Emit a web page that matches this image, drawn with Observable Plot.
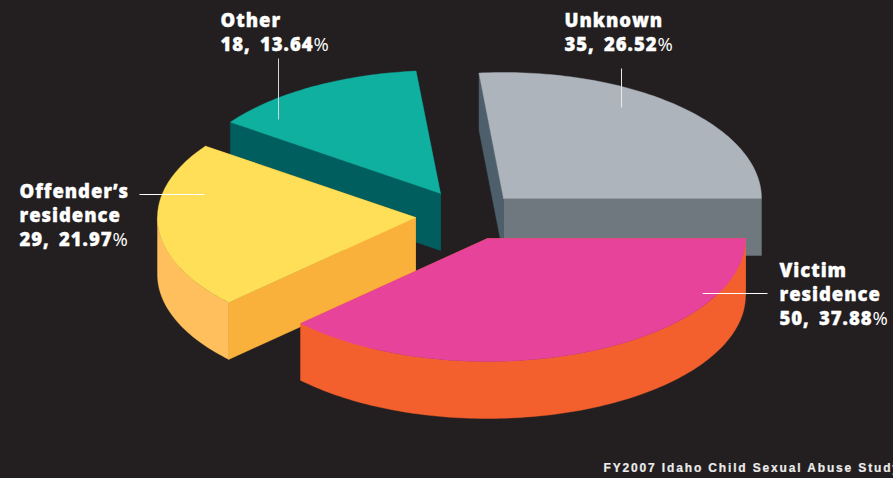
<!DOCTYPE html>
<html>
<head>
<meta charset="utf-8">
<script src="https://cdn.jsdelivr.net/npm/d3@7"></script>
<script src="https://cdn.jsdelivr.net/npm/@observablehq/plot@0.6"></script>
<style>
html,body{margin:0;padding:0;background:#231f20;overflow:hidden}
svg{display:block}
</style>
</head>
<body>
<div id="chart"></div>
<script>
// Data, clockwise from the 3 o'clock position
const categories = ["Victim residence", "Offender’s residence", "Other", "Unknown"];
const nameLines = ["Victim\nresidence", "Offender’s\nresidence", "Other", "Unknown"];
const counts = [50, 29, 18, 35];
const caption = "FY2007 Idaho Child Sexual Abuse Study";

// Presentation
const W = 893, H = 478, RX = 258, DEPTH = 57;
const RYs = [123, 123, 123, 126];
const apexX = [487, 415, 440, 503];
const apexY = [238, 217, 193, 198];
const topFill = ["#e7439a", "#ffdf57", "#0fb0a0", "#adb4bc"];
const rimFill = ["#f4602d", "#ffbf5c", "#005f5e", "#6e787e"];
const cutStartFill = ["#f4602d", "#fab13b", "#005f5e", "#4d5f6b"];
const cutEndFill = ["#f4602d", "#fab13b", "#005f5e", "#6e787e"];
const labelX = [779, 19, 220, 564];
const labelY = [259, 180, 9, 9];
const leaderX1 = [702, 139, 278, 621], leaderX2 = [767, 204, 278, 621];
const leaderY1 = [293, 194, 58, 68], leaderY2 = [293, 194, 119, 107];
const leaderStroke = ["#fff", "#fff", "#cfd8d6", "#e8ebee"];

const total = d3.sum(counts);
const angles = d3.cumsum(counts, v => v / total * 2 * Math.PI);
const startOf = i => i === 0 ? 0 : angles[i - 1];
const endOf = i => angles[i];

function arc(i, a0, a1, dy = 0) {
  const n = Math.max(2, Math.ceil(Math.abs(a1 - a0) / 0.02));
  return d3.range(n + 1).map(k => {
    const a = a0 + (a1 - a0) * k / n;
    return {x: apexX[i] + RX * Math.cos(a), y: apexY[i] + RYs[i] * Math.sin(a) + dy};
  });
}
const apex = (i, dy = 0) => ({x: apexX[i], y: apexY[i] + dy});
const edge = (i, a, dy = 0) => ({x: apexX[i] + RX * Math.cos(a), y: apexY[i] + RYs[i] * Math.sin(a) + dy});
const face = (pts, fill) => Plot.line([...pts, pts[0]], {x: "x", y: "y", fill, stroke: fill, strokeWidth: 0.4});

function sliceMarks(i) {
  const a0 = startOf(i), a1 = endOf(i), out = [];
  // Cut walls
  out.push(face([apex(i), edge(i, a1), edge(i, a1, DEPTH), apex(i, DEPTH)], cutEndFill[i]));
  out.push(face([apex(i), edge(i, a0), edge(i, a0, DEPTH), apex(i, DEPTH)], cutStartFill[i]));
  // Visible outer rim (front half of the ellipse only)
  const r0 = a0, r1 = Math.min(a1, Math.PI);
  if (r1 > r0) {
    out.push(face([...arc(i, r0, r1), ...arc(i, r1, r0, DEPTH)], rimFill[i]));
  }
  // Top face
  out.push(face([apex(i), ...arc(i, a0, a1)], topFill[i]));
  return out;
}

const labels = counts.map((v, i) => ({
  x: labelX[i], y: labelY[i],
  text: `${nameLines[i]}\n${v}, ${(v / total * 100).toFixed(2)}%`
}));
const leaders = counts.map((_, i) => ({x1: leaderX1[i], x2: leaderX2[i], y1: leaderY1[i], y2: leaderY2[i], stroke: leaderStroke[i]}));

const chart = Plot.plot({
  width: W, height: H,
  margin: 0,
  x: {domain: [0, W], range: [0, W], axis: null},
  y: {domain: [0, H], range: [0, H], axis: null},
  style: {background: "#231f20", overflow: "hidden"},
  marks: [
    ...[3, 2, 1, 0].flatMap(sliceMarks),
    ...leaders.map(d => Plot.link([d], {x1: "x1", y1: "y1", x2: "x2", y2: "y2", stroke: d.stroke, strokeWidth: 1})),
    Plot.text(labels, {
      x: "x", y: "y", text: "text", textAnchor: "start", lineAnchor: "top",
      fill: "#fff", stroke: "#fff", strokeWidth: 0.35,
      fontFamily: "'Open Sans', sans-serif", fontWeight: 800, fontSize: 18.5, lineHeight: 1.3
    }),
    Plot.text([caption], {
      x: () => 603, y: () => 468, text: d => d, textAnchor: "start", lineAnchor: "middle",
      fill: "#ececec", stroke: "#ececec", strokeWidth: 0.2,
      fontFamily: "'Liberation Sans Narrow', 'Liberation Sans', sans-serif", fontWeight: 700, fontSize: 12
    })
  ]
});
chart.querySelectorAll("text").forEach(t => {
  if (t.textContent.startsWith("FY2007")) {
    t.style.letterSpacing = "1.85px";
    return;
  }
  t.style.letterSpacing = "0.95px";
  t.style.wordSpacing = "3.5px";
  t.querySelectorAll("tspan").forEach(s => {
    const m = s.textContent.match(/^(.*)%$/);
    if (m) {
      s.textContent = m[1];
      const p = document.createElementNS("http://www.w3.org/2000/svg", "tspan");
      p.textContent = "%";
      p.setAttribute("font-weight", 400);
      p.setAttribute("stroke", "none");
      s.appendChild(p);
    }
  });
});
document.getElementById("chart").appendChild(chart);
</script>
</body>
</html>
